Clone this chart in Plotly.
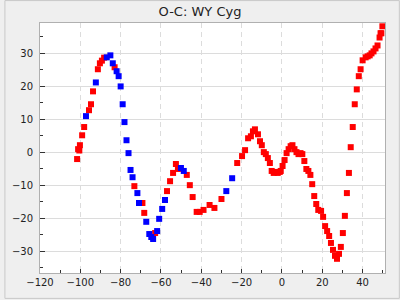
import plotly.graph_objects as go

red_x = [-101.6, -101.1, -100.5, -100.2, -99.1, -98.1, -95.7, -94.7, -93.7, -91.3, -90.3, -89.3, -88.2, -83.0,
         -73.2, -69.2, -68.3, -62.9, -57.0, -55.5, -54.0, -52.6, -51.6, -47.2, -45.7, -44.3, -42.3, -40.8,
         -38.9, -35.9, -33.5, -30.0, -22.2, -19.8, -18.3, -16.8, -15.4, -14.4, -13.4, -11.9, -10.9, -10.0,
         -9.0, -8.0, -7.0, -6.0, -5.1, -4.1, -3.1, -2.1, -1.1, -0.6, 0.3, 1.3, 2.3, 3.3, 4.3, 5.2, 6.2, 7.2,
         8.2, 9.2, 10.1, 11.1, 12.1, 13.1, 14.1, 15.0, 16.0, 17.0, 18.0, 19.4, 20.4, 21.4, 22.4, 23.4, 24.3,
         25.3, 26.3, 27.3, 28.3, 29.2, 30.2, 31.2, 32.2, 33.2, 34.1, 35.1, 36.1, 37.1, 38.1, 39.0, 40.0,
         41.5, 42.5, 43.5, 44.4, 45.4, 46.4, 47.4, 48.4, 48.9, 49.3, 49.8]
red_y = [-2.1, 0.9, 0.5, 2.1, 5.1, 7.6, 12.7, 14.5, 18.4, 25.1, 26.9, 27.7, 28.6, 25.7,
         -10.3, -15.4, -18.4, -24.5, -11.8, -8.8, -6.3, -3.6, -5.1, -6.9, -10.0, -13.6, -18.1, -18.1,
         -17.5, -16.0, -16.9, -14.2, -3.3, -1.2, 0.6, 4.2, 4.8, 6.3, 6.9, 5.4, 3.3, 2.1,
         0.0, -0.6, -1.8, -3.3, -5.7, -6.3, -6.0, -6.3, -6.0, -5.7, -4.2, -2.4, -0.3, 0.9, 1.8, 2.1, 0.9, 0.0,
         -0.6, -0.3, -0.6, -2.7, -5.1, -5.7, -6.9, -9.7, -13.3, -15.7, -17.5, -17.8, -19.6, -22.4, -23.9, -25.4, -27.5,
         -29.6, -31.4, -32.3, -30.8, -28.7, -24.5, -19.3, -12.4, -6.3, 1.5, 7.6, 14.5, 19.0, 23.0, 25.1, 27.8,
         28.7, 29.0, 29.3, 29.9, 30.5, 31.4, 32.3, 34.7, 36.0, 36.0, 38.1]

blue_x = [-97.2, -92.3, -86.9, -85.1, -83.9, -82.0, -81.0, -80.0, -79.0, -78.1, -77.1, -76.1, -75.1, -74.1,
          -71.7, -70.9, -67.3, -65.8, -64.8, -63.9, -61.9, -60.9, -59.4, -58.0, -50.1, -48.7, -27.6, -24.7]
blue_y = [10.9, 21.1, 28.7, 29.3, 26.9, 24.5, 23.0, 19.9, 14.5, 9.1, 3.6, -0.3, -5.4, -7.6,
          -12.4, -15.4, -21.1, -24.8, -25.7, -26.3, -23.9, -20.2, -17.2, -14.5, -4.8, -5.7, -11.8, -7.9]

title_text = "O-C: WY Cyg"
x_ticks = [-120, -100, -80, -60, -40, -20, 0, 20, 40]
y_ticks = [-30, -20, -10, 0, 10, 20, 30]

fig = go.Figure()
fig.add_trace(go.Scatter(x=red_x, y=red_y, mode="markers",
                         marker=dict(symbol="square", size=6, color="#ff0000", line=dict(width=0)),
                         showlegend=False))
fig.add_trace(go.Scatter(x=blue_x, y=blue_y, mode="markers",
                         marker=dict(symbol="square", size=6, color="#0000ff", line=dict(width=0)),
                         showlegend=False))

axis_font = dict(family="DejaVu Sans", size=10, color="#222")
fig.update_layout(
    width=400, height=300,
    margin=dict(l=36, r=15, t=23, b=26),
    paper_bgcolor="#efefef",
    plot_bgcolor="#ffffff",
    title=dict(text=title_text, x=0.5, xanchor="center", xref="container",
               y=1 - 11 / 300, yref="container", yanchor="middle",
               font=dict(family="DejaVu Sans", size=13, color="#222")),
    xaxis=dict(range=[-120, 51.1], tickvals=x_ticks, ticks="inside", ticklen=4, tickcolor="#333",
               showline=True, linecolor="#b0b0b0", mirror=True, showgrid=True, gridcolor="#dcdcdc",
               griddash="5px,4px", zeroline=False, tickfont=axis_font,
               minor=dict(dtick=10, ticks="inside", ticklen=3, tickcolor="#333", showgrid=False)),
    yaxis=dict(range=[-36.6, 39.1], tickvals=y_ticks, ticks="inside", ticklen=5, tickcolor="#333",
               showline=True, linecolor="#b0b0b0", mirror=True, showgrid=True, gridcolor="#dcdcdc",
               zeroline=False, tickfont=axis_font, ticklabelstandoff=4,
               minor=dict(dtick=5, tick0=5, ticks="inside", ticklen=3, tickcolor="#333", showgrid=False)),
)
fig.add_shape(type="rect", xref="paper", yref="paper",
              x0=-35.5 / 349, x1=1 + 14.5 / 349, y0=-25.5 / 251, y1=1 + 22.5 / 251,
              line=dict(color="#c8c8c8", width=1), fillcolor="rgba(0,0,0,0)", layer="below")
fig.write_html("out.html")
